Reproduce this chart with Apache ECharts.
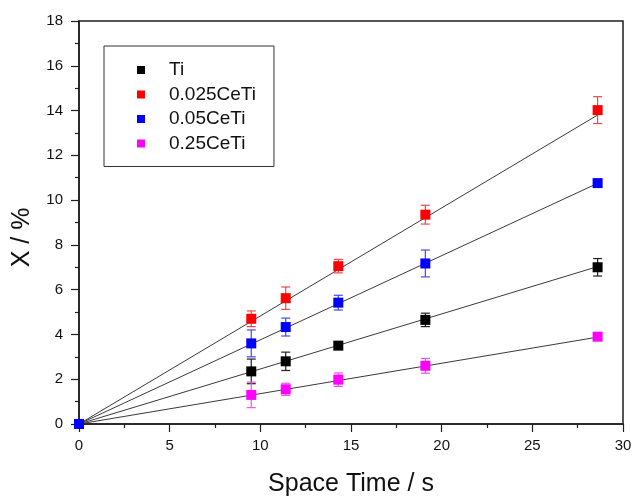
<!DOCTYPE html>
<html>
<head>
<meta charset="utf-8">
<script src="https://cdn.jsdelivr.net/npm/echarts@6/dist/echarts.min.js"></script>
<style>
  html, body { margin: 0; padding: 0; background: #fff; }
  #chart { width: 634px; height: 497px; }
</style>
</head>
<body>
<div id="chart"></div>
<script>
// Space time (s) of each measurement
const spaceTime = [0, 9.5, 11.4, 14.3, 19.1, 28.6];

// Conversion X (%) for each catalyst
const seriesNames = ['Ti', '0.025CeTi', '0.05CeTi', '0.25CeTi'];
const convTi     = [0, 2.35, 2.80, 3.50, 4.65, 7.00];
const conv025    = [0, 4.70, 5.62, 7.05, 9.35, 14.02];
const conv05     = [0, 3.60, 4.33, 5.42, 7.17, 10.76];
const conv25     = [0, 1.30, 1.55, 1.98, 2.60, 3.90];

// Standard deviation (± %) of each conversion value
const errTi  = [0, 0.55, 0.41, 0.15, 0.30, 0.39];
const err025 = [0, 0.35, 0.50, 0.30, 0.42, 0.60];
const err05  = [0, 0.60, 0.40, 0.33, 0.60, 0.08];
const err25  = [0, 0.57, 0.27, 0.30, 0.33, 0.06];

// Linear fits through the origin: value reached at the last space time
const fitX = [0, 28.6];
const fitEndTi  = 7.03;
const fitEnd025 = 13.80;
const fitEnd05  = 10.75;
const fitEnd25  = 3.88;

const markColors = ['#000000', '#ff0000', '#0000ff', '#ff00ff'];
const barColors  = ['#222222', '#f04848', '#4848e8', '#f050f0'];

const convAll = [convTi, conv025, conv05, conv25];
const errAll  = [errTi, err025, err05, err25];
const fitEnds = [fitEndTi, fitEnd025, fitEnd05, fitEnd25];

const fontFamily = 'Liberation Sans, Arial, sans-serif';

const series = [];

// fitted lines
fitEnds.forEach((v, i) => {
  series.push({
    name: seriesNames[i] + ' fit',
    type: 'line',
    data: [[fitX[0], 0], [fitX[1], v]],
    symbol: 'none',
    lineStyle: { color: '#3a3a3a', width: 1 },
    z: 2,
    silent: true
  });
});

// error bars
convAll.forEach((vals, i) => {
  const data = spaceTime.map((t, k) => [t, vals[k] - errAll[i][k], vals[k] + errAll[i][k]]);
  series.push({
    name: seriesNames[i] + ' err',
    type: 'custom',
    data: data,
    z: 3,
    silent: true,
    renderItem: function (params, api) {
      const x = api.value(0);
      const lo = api.coord([x, api.value(1)]);
      const hi = api.coord([x, api.value(2)]);
      const hw = 4.5;
      const style = { stroke: barColors[i], lineWidth: 1.2, fill: null };
      return {
        type: 'group',
        children: [
          { type: 'line', shape: { x1: lo[0], y1: lo[1], x2: hi[0], y2: hi[1] }, style: style },
          { type: 'line', shape: { x1: lo[0] - hw, y1: lo[1], x2: lo[0] + hw, y2: lo[1] }, style: style },
          { type: 'line', shape: { x1: hi[0] - hw, y1: hi[1], x2: hi[0] + hw, y2: hi[1] }, style: style }
        ]
      };
    }
  });
});

// measured points
convAll.forEach((vals, i) => {
  series.push({
    name: seriesNames[i],
    type: 'scatter',
    data: spaceTime.map((t, k) => [t, vals[k]]),
    symbol: 'rect',
    symbolSize: 10,
    itemStyle: { color: markColors[i], opacity: 1 },
    clip: false,
    z: i === 2 ? 6 : 5
  });
});

const chart = echarts.init(document.getElementById('chart'), null, { renderer: 'canvas' });
chart.setOption({
  animation: false,
  backgroundColor: '#ffffff',
  grid: {
    left: 79, right: 11, top: 21, bottom: 73,
    show: true, borderColor: '#1e1e1e', borderWidth: 1.5,
    containLabel: false,
    outerBoundsMode: 'none'
  },
  legend: {
    data: seriesNames,
    orient: 'vertical',
    left: 104,
    top: 46,
    icon: 'rect',
    itemWidth: 8,
    itemHeight: 8,
    itemGap: 4.5,
    padding: [14, 18, 13, 33],
    borderColor: '#333333',
    borderWidth: 1,
    itemStyle: { opacity: 1 },
    textStyle: { fontFamily: fontFamily, fontSize: 19, color: '#111', lineHeight: 20, padding: [0, 0, 0, 19] }
  },
  xAxis: {
    type: 'value',
    min: 0, max: 30, interval: 5,
    name: 'Space Time / s',
    nameLocation: 'middle',
    nameGap: 48,
    nameTextStyle: { fontFamily: fontFamily, fontSize: 25, color: '#111' },
    axisLine: { show: true, onZero: false, lineStyle: { color: '#1e1e1e', width: 1.5 } },
    axisTick: { show: true, inside: false, length: 8, lineStyle: { color: '#1e1e1e', width: 1.2 } },
    minorTick: { show: true, splitNumber: 2, length: 4, lineStyle: { color: '#1e1e1e', width: 1.2 } },
    axisLabel: { fontFamily: fontFamily, fontSize: 15, color: '#111', margin: 14 },
    splitLine: { show: false }
  },
  yAxis: {
    type: 'value',
    min: 0, max: 18, interval: 2,
    name: 'X / %',
    nameLocation: 'middle',
    nameGap: 44,
    nameTextStyle: { fontFamily: fontFamily, fontSize: 25, color: '#111', padding: [0, 30, 0, 0] },
    axisLine: { show: true, onZero: false, lineStyle: { color: '#1e1e1e', width: 1.5 } },
    axisTick: { show: true, inside: false, length: 8, lineStyle: { color: '#1e1e1e', width: 1.2 } },
    minorTick: { show: true, splitNumber: 2, length: 4, lineStyle: { color: '#1e1e1e', width: 1.2 } },
    axisLabel: { fontFamily: fontFamily, fontSize: 15, color: '#111', margin: 16 },
    splitLine: { show: false }
  },
  series: series
});
</script>
</body>
</html>
